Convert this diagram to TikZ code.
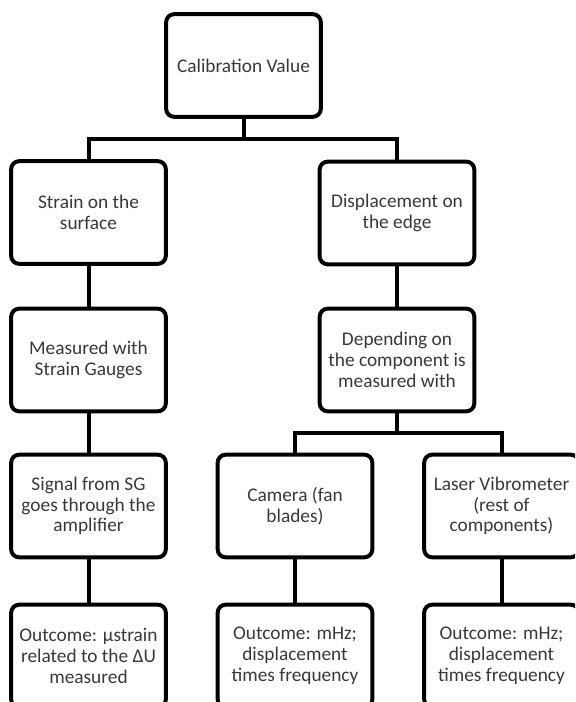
\documentclass[tikz,border=0pt]{standalone}
\usepackage{fontspec}
\setmainfont{Carlito}
\usepackage{tikz}

\begin{document}
\begin{tikzpicture}[x=0.75pt,y=-0.75pt,
box/.style={draw,line width=3pt,rounded corners=6pt,minimum width=116pt,minimum height=77pt,
inner sep=2pt,align=center,text=black!78,font=\fontsize{14.5pt}{15.6pt}\selectfont},
link/.style={line width=3pt,line join=miter}]
\clip (0,0) rectangle (575,702);
\node[box] (calib) at (243.5,65.5) {Calibration Value};
\node[box] (strain) at (88.5,212.5) {Strain on the\\surface};
\node[box] (disp) at (397,213) {Displacement on\\the edge};
\node[box] (meas) at (88.5,360) {Measured with\\Strain Gauges};
\node[box] (dep) at (397,360) {Depending on\\the component is\\measured with};
\node[box] (sig) at (88.5,506) {Signal from SG\\goes through the\\amplifier};
\node[box] (cam) at (295,506) {Camera (fan\\blades)};
\node[box] (laser) at (501.5,506) {Laser Vibrometer\\(rest of\\components)};
\node[box] (outsg) at (88.5,656) {Outcome: µstrain\\related to the ΔU\\measured};
\node[box] (outcam) at (295,656) {Outcome: mHz;\\displacement\\times frequency};
\node[box] (outlaser) at (501.5,656) {Outcome: mHz;\\displacement\\times frequency};
\coordinate (jtop) at (243.5,139);
\coordinate (jdep) at (397,433);
\draw[link] (calib.south) -- (jtop);
\draw[link] (strain.north) |- (jtop) -| (disp.north);
\draw[link] (strain) -- (meas);
\draw[link] (meas) -- (sig);
\draw[link] (sig) -- (outsg);
\draw[link] (disp) -- (dep);
\draw[link] (dep.south) -- (jdep);
\draw[link] (cam.north) |- (jdep) -| (laser.north);
\draw[link] (cam) -- (outcam);
\draw[link] (laser) -- (outlaser);
\end{tikzpicture}
\end{document}
